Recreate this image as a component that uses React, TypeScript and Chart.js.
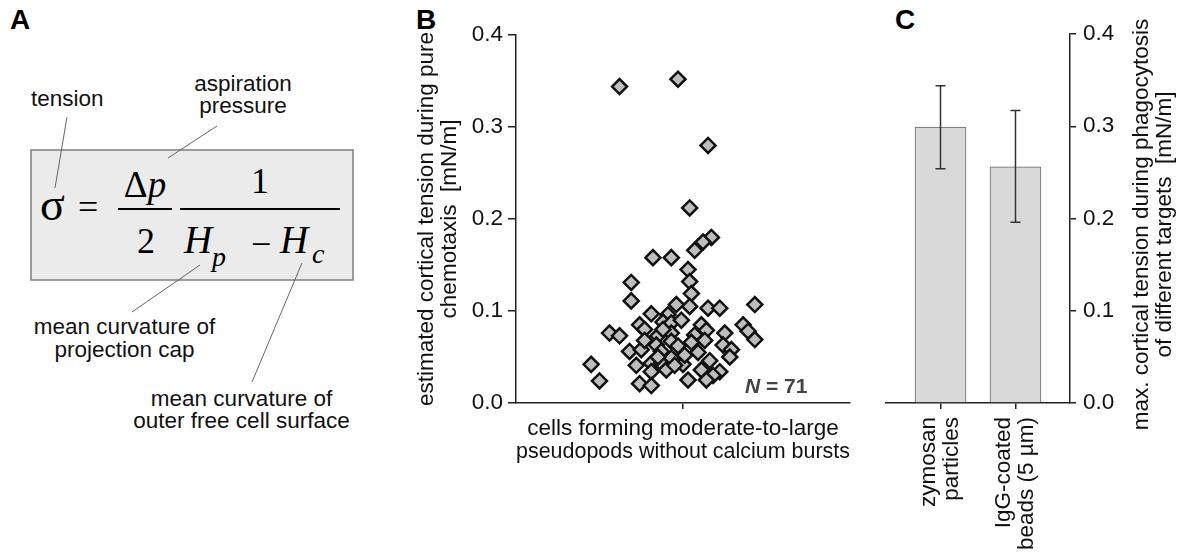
import React, { useEffect, useRef } from 'react';
import { Chart, registerables } from 'chart.js';

Chart.register(...registerables);

const SANS = "'Liberation Sans', Arial, Helvetica, sans-serif";
const SERIF = "'Liberation Serif', 'Times New Roman', serif";

// ---------- Panel B data ----------
// horizontal jitter (category centre = 0) and estimated cortical tension [mN/m]
const scatterX = [
  -0.38, -0.03, 0.15, 0.04, 0.17, 0.12, 0.07, -0.18, -0.07, 0.03,
  0.04, -0.31, 0.05, -0.31, 0.04, -0.04, 0.15, 0.22, 0.43, -0.19,
  -0.09, -0.12, -0.26, -0.23, -0.07, 0.11, 0.14, 0.36, 0.39, 0.43,
  -0.44, -0.38, -0.15, -0.07, 0.07, 0.25, 0.05, 0.13, -0.16, -0.07,
  0.24, -0.32, -0.25, -0.13, 0.29, 0.28, -0.07, -0.55, -0.28, -0.19,
  -0.13, 0.0, -0.1, 0.11, 0.22, 0.18, -0.19, -0.5, -0.26, -0.19,
  0.03, 0.14, -0.12, -0.03, 0.01, -0.05, -0.15, 0.09, -0.23, -0.01,
  0.16,
];
const scatterY = [
  0.344, 0.352, 0.28, 0.212, 0.18, 0.175, 0.166, 0.158, 0.158, 0.145,
  0.132, 0.131, 0.119, 0.111, 0.105, 0.107, 0.103, 0.103, 0.107, 0.097,
  0.096, 0.088, 0.085, 0.08, 0.087, 0.085, 0.079, 0.085, 0.078, 0.069,
  0.076, 0.073, 0.073, 0.076, 0.074, 0.076, 0.066, 0.068, 0.063, 0.067,
  0.063, 0.056, 0.058, 0.056, 0.058, 0.05, 0.049, 0.042, 0.041, 0.043,
  0.043, 0.042, 0.036, 0.036, 0.034, 0.03, 0.034, 0.024, 0.021, 0.019,
  0.025, 0.025, 0.08, 0.062, 0.052, 0.041, 0.05, 0.055, 0.068, 0.09,
  0.046,
];
const yTicks = [0, 0.1, 0.2, 0.3, 0.4];
const bCategoryLabel = ['cells forming moderate-to-large', 'pseudopods without calcium bursts'];
const bYTitle = ['estimated cortical tension during pure', 'chemotaxis  [mN/m]'];
const bCount = 71;

// ---------- Panel C data ----------
const cCategories = [
  ['zymosan', 'particles'],
  ['IgG-coated', 'beads (5 µm)'],
];
const cPositions = [1, 2];
const cMeans = [0.299, 0.256];
const cErrLow = [0.254, 0.196];
const cErrHigh = [0.344, 0.317];
const cYTitle = ['max. cortical tension during phagocytosis', 'of different targets  [mN/m]'];

const AXIS = '#222';
const TEXT = '#111';
const FS = 22.5;

const nLabelPlugin = {
  id: 'nLabel',
  afterDraw(chart: any) {
    const { ctx, chartArea } = chart;
    ctx.save();
    ctx.fillStyle = '#444';
    ctx.textBaseline = 'alphabetic';
    ctx.textAlign = 'left';
    const x0 = chartArea.right - 105;
    const y0 = chartArea.bottom - 10;
    ctx.font = `italic bold 21px ${SANS}`;
    ctx.fillText('N', x0, y0);
    const w = ctx.measureText('N').width;
    ctx.font = `bold 21px ${SANS}`;
    ctx.fillText(' = ' + bCount, x0 + w, y0);
    ctx.restore();
  },
};

const errorBarPlugin = {
  id: 'errorBars',
  afterDatasetsDraw(chart: any) {
    const { ctx } = chart;
    const xs = chart.scales.x;
    const ys = chart.scales.y;
    ctx.save();
    ctx.strokeStyle = '#333';
    ctx.lineWidth = 1.5;
    cPositions.forEach((p, i) => {
      const px = xs.getPixelForValue(p);
      const yl = ys.getPixelForValue(cErrLow[i]);
      const yh = ys.getPixelForValue(cErrHigh[i]);
      ctx.beginPath();
      ctx.moveTo(px, yl);
      ctx.lineTo(px, yh);
      ctx.moveTo(px - 5, yl);
      ctx.lineTo(px + 5, yl);
      ctx.moveTo(px - 5, yh);
      ctx.lineTo(px + 5, yh);
      ctx.stroke();
    });
    ctx.restore();
  },
};

const rightTitlePlugin = {
  id: 'rightTitle',
  afterDraw(chart: any) {
    const { ctx, chartArea } = chart;
    const ys = chart.scales.y;
    const cy = (chartArea.top + chartArea.bottom) / 2 + 6;
    ctx.save();
    ctx.font = `${FS}px ${SANS}`;
    ctx.fillStyle = TEXT;
    ctx.textAlign = 'center';
    ctx.textBaseline = 'middle';
    cYTitle.forEach((line, i) => {
      ctx.save();
      ctx.translate(ys.right - 38 + i * 23, cy);
      ctx.rotate(-Math.PI / 2);
      ctx.fillText(line, 0, 0);
      ctx.restore();
    });
    ctx.restore();
  },
};

const tickFont = { family: SANS, size: FS, lineHeight: 1.02 };

function PanelB() {
  const ref = useRef<HTMLCanvasElement>(null);
  useEffect(() => {
    if (!ref.current) return;
    const chart = new Chart(ref.current, {
      type: 'scatter',
      data: {
        datasets: [
          {
            data: scatterX.map((x, i) => ({ x, y: scatterY[i] })),
            pointStyle: 'rectRot',
            pointRadius: 7.5,
            pointHoverRadius: 7.5,
            pointBackgroundColor: '#bdbdbd',
            pointBorderColor: '#111',
            pointBorderWidth: 2.5,
          },
        ],
      },
      options: {
        responsive: false,
        animation: false,
        devicePixelRatio: 1,
        events: [],
        layout: { padding: { top: 35, right: 7, left: 0, bottom: 0 } },
        plugins: { legend: { display: false }, tooltip: { enabled: false } },
        scales: {
          x: {
            type: 'linear',
            min: -1,
            max: 1,
            position: 'bottom',
            afterBuildTicks: (s: any) => {
              s.ticks = [{ value: 0 }];
            },
            afterFit: (s: any) => {
              s.height = 97;
            },
            grid: { drawOnChartArea: false, drawTicks: true, tickLength: 6, color: AXIS, lineWidth: 1.5 },
            border: { display: true, color: AXIS, width: 1.5 },
            ticks: {
              callback: () => '',
              font: tickFont,
              padding: 0,
              maxRotation: 0,
              autoSkip: false,
            },
            title: {
              display: true,
              text: bCategoryLabel,
              font: { family: SANS, size: FS, lineHeight: 1.02 },
              color: TEXT,
              padding: { top: 0, bottom: 36.5 },
            },
          },
          y: {
            type: 'linear',
            min: 0,
            max: 0.4,
            position: 'left',
            afterBuildTicks: (s: any) => {
              s.ticks = yTicks.map((v) => ({ value: v }));
            },
            afterFit: (s: any) => {
              s.width = 116;
            },
            grid: { drawOnChartArea: false, drawTicks: true, tickLength: 8, color: AXIS, lineWidth: 1.5 },
            border: { display: true, color: AXIS, width: 1.5 },
            ticks: {
              callback: (v: any) => Number(v).toFixed(1),
              font: tickFont,
              color: TEXT,
              padding: 5,
            },
            title: {
              display: true,
              text: bYTitle,
              font: { family: SANS, size: FS, lineHeight: 1.02 },
              color: TEXT,
              padding: { top: 15.5, bottom: 0 },
            },
          },
        },
      },
      plugins: [nLabelPlugin],
    } as any);
    return () => chart.destroy();
  }, []);
  return (
    <canvas
      ref={ref}
      width={460}
      height={500}
      style={{ position: 'absolute', left: 400, top: 0, width: 460, height: 500 }}
    />
  );
}

function PanelC() {
  const ref = useRef<HTMLCanvasElement>(null);
  useEffect(() => {
    if (!ref.current) return;
    const chart = new Chart(ref.current, {
      type: 'bar',
      data: {
        datasets: [
          {
            data: cPositions.map((x, i) => ({ x, y: cMeans[i] })),
            backgroundColor: '#d9d9d9',
            borderColor: '#666',
            borderWidth: 1,
            barThickness: 51,
          },
        ],
      },
      options: {
        responsive: false,
        animation: false,
        devicePixelRatio: 1,
        events: [],
        layout: { padding: { top: 34, right: 0, left: 16, bottom: 0 } },
        plugins: { legend: { display: false }, tooltip: { enabled: false } },
        scales: {
          x: {
            type: 'linear',
            min: 0.273,
            max: 2.727,
            offset: false,
            position: 'bottom',
            afterBuildTicks: (s: any) => {
              s.ticks = cPositions.map((v) => ({ value: v }));
            },
            afterFit: (s: any) => {
              s.height = 149;
            },
            grid: { offset: false, drawOnChartArea: false, drawTicks: true, tickLength: 6, color: AXIS, lineWidth: 1.5 },
            border: { display: true, color: AXIS, width: 1.5 },
            ticks: {
              callback: (v: any) => cCategories[cPositions.indexOf(Number(v))],
              font: tickFont,
              color: TEXT,
              padding: 8,
              minRotation: 90,
              maxRotation: 90,
              labelOffset: -11.5,
              autoSkip: false,
            },
          },
          y: {
            type: 'linear',
            min: 0,
            max: 0.4,
            position: 'right',
            afterBuildTicks: (s: any) => {
              s.ticks = yTicks.map((v) => ({ value: v }));
            },
            afterFit: (s: any) => {
              s.width = 110;
            },
            grid: { drawOnChartArea: false, drawTicks: true, tickLength: 6, color: AXIS, lineWidth: 1.5 },
            border: { display: true, color: AXIS, width: 1.5 },
            ticks: {
              callback: (v: any) => Number(v).toFixed(1),
              font: tickFont,
              color: TEXT,
              padding: 7,
            },
          },
        },
      },
      plugins: [errorBarPlugin, rightTitlePlugin],
    } as any);
    return () => chart.destroy();
  }, []);
  return (
    <canvas
      ref={ref}
      width={310}
      height={552}
      style={{ position: 'absolute', left: 870, top: 0, width: 310, height: 552 }}
    />
  );
}

function Figure() {
  const lbl = { fontFamily: SANS, fontSize: 22.5, fill: TEXT } as any;
  const serif = { fontFamily: SERIF, fill: '#000' } as any;
  return (
    <svg
      width={1180}
      height={552}
      style={{ position: 'absolute', left: 0, top: 0 }}
      xmlns="http://www.w3.org/2000/svg"
    >
      {/* panel letters */}
      <text x={10} y={29} style={{ fontFamily: SANS, fontSize: 28, fontWeight: 'bold' }}>A</text>
      <text x={416} y={29} style={{ fontFamily: SANS, fontSize: 28, fontWeight: 'bold' }}>B</text>
      <text x={895} y={29} style={{ fontFamily: SANS, fontSize: 28, fontWeight: 'bold' }}>C</text>

      {/* panel A */}
      <rect x={31} y={150} width={322} height={130} fill="#ebebeb" stroke="#808080" strokeWidth={1.5} />
      <g stroke="#666" strokeWidth={1}>
        <line x1={67} y1={117} x2={55} y2={188} />
        <line x1={217} y1={126} x2={168} y2={158} />
        <line x1={200} y1={265} x2={132} y2={312} />
        <line x1={302} y1={263} x2={252} y2={382} />
      </g>
      <text x={31} y={106} style={lbl}>tension</text>
      <text x={243} y={90.5} textAnchor="middle" style={lbl}>aspiration</text>
      <text x={243} y={113} textAnchor="middle" style={lbl}>pressure</text>
      <text x={124.5} y={334} textAnchor="middle" style={lbl}>mean curvature of</text>
      <text x={124.5} y={357} textAnchor="middle" style={lbl}>projection cap</text>
      <text x={241.5} y={406} textAnchor="middle" style={lbl}>mean curvature of</text>
      <text x={241.5} y={428} textAnchor="middle" style={lbl}>outer free cell surface</text>

      {/* formula */}
      <text x={40} y={220} style={{ ...serif, fontSize: 46 }}>σ</text>
      <text x={78} y={219} style={{ ...serif, fontSize: 36 }}>=</text>
      <text x={145} y={197} textAnchor="middle" style={{ ...serif, fontSize: 37 }}>
        Δ<tspan fontStyle="italic">p</tspan>
      </text>
      <line x1={118} y1={209} x2={172} y2={209} stroke="#000" strokeWidth={2} />
      <text x={146} y={253} textAnchor="middle" style={{ ...serif, fontSize: 36 }}>2</text>
      <text x={260} y={193} textAnchor="middle" style={{ ...serif, fontSize: 36 }}>1</text>
      <line x1={180} y1={209} x2={340} y2={209} stroke="#000" strokeWidth={2} />
      <text x={184} y={253} style={{ ...serif, fontSize: 39, fontStyle: 'italic' }}>H</text>
      <text x={212} y={266} style={{ ...serif, fontSize: 28, fontStyle: 'italic' }}>p</text>
      <text x={251} y={256} style={{ ...serif, fontSize: 36 }}>−</text>
      <text x={280} y={253} style={{ ...serif, fontSize: 39, fontStyle: 'italic' }}>H</text>
      <text x={312} y={263} style={{ ...serif, fontSize: 28, fontStyle: 'italic' }}>c</text>
    </svg>
  );
}

export default function App() {
  return (
    <div style={{ position: 'absolute', left: 0, top: 0, width: 1180, height: 552, background: '#fff', overflow: 'hidden' }}>
      <Figure />
      <PanelB />
      <PanelC />
    </div>
  );
}
